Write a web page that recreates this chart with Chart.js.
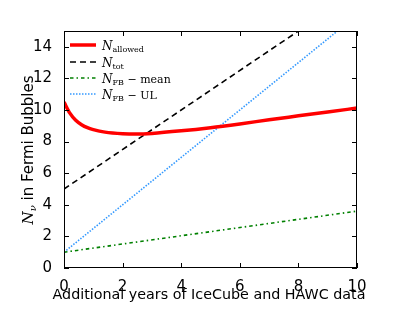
<!DOCTYPE html>
<html><head><meta charset="utf-8">
<script src="https://cdn.jsdelivr.net/npm/chart.js@4"></script>
<style>html,body{margin:0;padding:0;background:#fff}#wrap{width:415px;height:312px}</style>
</head><body><div id="wrap"><canvas id="c" width="415" height="312"></canvas></div>
<script>
const xTicks = [0, 2, 4, 6, 8, 10];
const yTicks = [0, 2, 4, 6, 8, 10, 12, 14];
const allowedX = [0, 0.2, 0.4, 0.6, 0.8, 1.0, 1.4, 2, 2.5, 3, 4, 5, 6, 7, 8, 9, 10];
const allowedY = [10.5, 9.8, 9.35, 9.07, 8.88, 8.76, 8.6, 8.5, 8.48, 8.52, 8.68, 8.88, 9.12, 9.38, 9.63, 9.88, 10.12];
const totX = [0, 10];
const totY = [5, 17.5];
const meanX = [0, 10];
const meanY = [1, 3.6];
const ulX = [0, 10];
const ulY = [1, 16];
const xTitle = 'Additional years of IceCube and HAWC data';
const legendMain = ['N', 'N', 'N', 'N'];
const legendSub = ['allowed', 'tot', 'FB', 'FB'];
const legendTail = ['', '', ' \u2212 mean', ' \u2212 UL'];

const pts = (xs, ys) => xs.map((x, i) => ({x, y: ys[i]}));
const tickFont = {family: 'DejaVu Sans', size: 15};

const boxPlugin = {
  id: 'box',
  afterDatasetsDraw(chart) {
    const {ctx, chartArea: a, scales: {x, y}} = chart;
    ctx.save();
    ctx.strokeStyle = '#000';
    ctx.lineWidth = 1;
    ctx.strokeRect(a.left + 0.5, a.top + 0.5, a.right - a.left - 1, a.bottom - a.top - 1);
    ctx.beginPath();
    xTicks.forEach(v => {
      const px = Math.round(x.getPixelForValue(v)) + 0.5;
      ctx.moveTo(px, a.bottom); ctx.lineTo(px, a.bottom - 5);
      ctx.moveTo(px, a.top); ctx.lineTo(px, a.top + 5);
    });
    yTicks.forEach(v => {
      const py = Math.round(y.getPixelForValue(v)) + 0.5;
      ctx.moveTo(a.left, py); ctx.lineTo(a.left + 5, py);
      ctx.moveTo(a.right, py); ctx.lineTo(a.right - 5, py);
    });
    ctx.stroke();
    // legend
    const ds = chart.data.datasets;
    const rows = [45, 62, 78, 94];
    ds.forEach((d, i) => {
      const yy = rows[i];
      ctx.save();
      ctx.strokeStyle = d.borderColor;
      ctx.lineWidth = d.borderWidth;
      ctx.setLineDash(d.borderDash || []);
      ctx.beginPath();
      ctx.moveTo(70, yy); ctx.lineTo(96, yy);
      ctx.stroke();
      ctx.restore();
      ctx.fillStyle = '#000';
      ctx.textBaseline = 'alphabetic';
      ctx.textAlign = 'left';
      let tx = 102;
      ctx.font = 'italic 12px "DejaVu Serif"';
      ctx.fillText(legendMain[i], tx, yy + 5);
      tx += ctx.measureText(legendMain[i]).width;
      ctx.font = '8px "DejaVu Serif"';
      ctx.fillText(legendSub[i], tx, yy + 7);
      tx += ctx.measureText(legendSub[i]).width;
      ctx.font = '11px "DejaVu Serif"';
      ctx.fillText(legendTail[i], tx, yy + 5);
    });
    // x title
    ctx.fillStyle = '#000';
    ctx.font = '14.3px "DejaVu Sans"';
    ctx.textAlign = 'center';
    ctx.textBaseline = 'middle';
    ctx.fillText(xTitle, 209, 295);
    // y title
    ctx.save();
    ctx.translate(28, 150);
    ctx.rotate(-Math.PI / 2);
    ctx.textAlign = 'left';
    ctx.textBaseline = 'alphabetic';
    const parts = [
      {t: 'N', f: 'italic 15px "DejaVu Serif"', dy: 0},
      {t: '\u03bd', f: 'italic 10px "DejaVu Serif"', dy: 3},
      {t: ' in Fermi Bubbles', f: '15px "DejaVu Sans"', dy: 0}
    ];
    let w = 0;
    parts.forEach(p => { ctx.font = p.f; w += ctx.measureText(p.t).width; });
    let tx = -w / 2;
    parts.forEach(p => { ctx.font = p.f; ctx.fillText(p.t, tx, 5 + p.dy); tx += ctx.measureText(p.t).width; });
    ctx.restore();
    ctx.restore();
  }
};

new Chart(document.getElementById('c'), {
  type: 'scatter',
  data: {
    datasets: [
      {data: pts(allowedX, allowedY), showLine: true, borderColor: '#ff0000', borderWidth: 3.5, pointRadius: 0, cubicInterpolationMode: 'monotone'},
      {data: pts(totX, totY), showLine: true, borderColor: '#000000', borderWidth: 1.6, borderDash: [6, 4], pointRadius: 0},
      {data: pts(meanX, meanY), showLine: true, borderColor: '#008000', borderWidth: 1.6, borderDash: [3.5, 3, 1.5, 3], pointRadius: 0},
      {data: pts(ulX, ulY), showLine: true, borderColor: '#3399ff', borderWidth: 1.6, borderDash: [1.5, 1.5], pointRadius: 0}
    ]
  },
  options: {
    responsive: false,
    animation: false,
    layout: {padding: {left: 0, right: 58, top: 31, bottom: 0}},
    plugins: {legend: {display: false}, tooltip: {enabled: false}},
    scales: {
      x: {
        type: 'linear', min: 0, max: 10,
        afterFit(s) { s.height = 44; },
        afterBuildTicks(s) { s.ticks = xTicks.map(v => ({value: v})); },
        grid: {display: false},
        border: {display: false},
        ticks: {font: tickFont, color: '#000', padding: 2, maxRotation: 0}
      },
      y: {
        type: 'linear', min: 0, max: 15,
        afterFit(s) { s.width = 64; },
        afterBuildTicks(s) { s.ticks = yTicks.map(v => ({value: v})); },
        grid: {display: false},
        border: {display: false},
        ticks: {font: tickFont, color: '#000', padding: 4}
      }
    }
  },
  plugins: [boxPlugin]
});
</script>
</body></html>
